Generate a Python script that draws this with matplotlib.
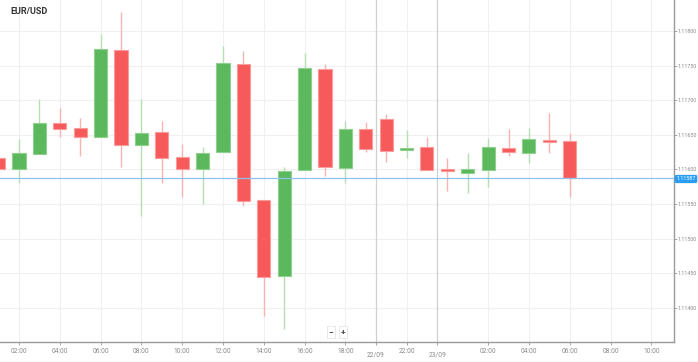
import matplotlib
matplotlib.use("Agg")
import matplotlib.pyplot as plt
import numpy as np

plt.rcParams['font.family'] = ['Roboto', 'DejaVu Sans']

# Hourly candles (index 0 = 01:00 on 21/09)
opens  = [1.11617, 1.11601, 1.11622, 1.11667, 1.11660, 1.11647, 1.11773, 1.11635, 1.11654, 1.11618,
          1.11601, 1.11625, 1.11752, 1.11556, 1.11446, 1.11599, 1.11745, 1.11602, 1.11658, 1.11673,
          1.11628, 1.11632, 1.11599, 1.11595, 1.11599, 1.11631, 1.11624, 1.11641, 1.11641]
highs  = [1.11620, 1.11644, 1.11702, 1.11689, 1.11674, 1.11796, 1.11827, 1.11702, 1.11670, 1.11637,
          1.11632, 1.11778, 1.11771, 1.11556, 1.11603, 1.11768, 1.11752, 1.11670, 1.11669, 1.11680,
          1.11657, 1.11647, 1.11617, 1.11624, 1.11645, 1.11658, 1.11660, 1.11682, 1.11653]
lows   = [1.11598, 1.11580, 1.11622, 1.11647, 1.11619, 1.11647, 1.11603, 1.11533, 1.11580, 1.11560,
          1.11550, 1.11625, 1.11547, 1.11388, 1.11369, 1.11599, 1.11590, 1.11580, 1.11625, 1.11611,
          1.11617, 1.11599, 1.11569, 1.11566, 1.11575, 1.11619, 1.11609, 1.11624, 1.11560]
closes = [1.11601, 1.11624, 1.11667, 1.11658, 1.11647, 1.11774, 1.11635, 1.11653, 1.11617, 1.11601,
          1.11624, 1.11754, 1.11554, 1.11445, 1.11598, 1.11747, 1.11603, 1.11658, 1.11630, 1.11627,
          1.11631, 1.11599, 1.11598, 1.11601, 1.11632, 1.11625, 1.11644, 1.11640, 1.11587]

time_tick_pos = [1, 3, 5, 7, 9, 11, 13, 15, 17, 20, 24, 26, 28, 30, 32]
time_tick_labels = ["02:00", "04:00", "06:00", "08:00", "10:00", "12:00", "14:00", "16:00",
                    "18:00", "22:00", "02:00", "04:00", "06:00", "08:00", "10:00"]
day_pos = [18.5, 21.5]
day_labels = ["22/09", "23/09"]
price_ticks = [1.11400, 1.11450, 1.11500, 1.11550, 1.11600, 1.11650, 1.11700, 1.11750, 1.11800]
last_price = 1.11587
title = "EUR/USD"

W, H = 698, 362
fig = plt.figure(figsize=(W / 100, H / 100), dpi=100)
ax = fig.add_axes([0, 1 - 342 / H, 674 / W, 342 / H])

GREEN = "#5cb85c"
GREEN_EDGE = "#8fd08f"
RED = "#f75a5a"
RED_EDGE = "#fb9a9a"

x = np.arange(len(opens))
o = np.array(opens); c = np.array(closes); hi = np.array(highs); lo = np.array(lows)
up = c >= o
bottom = np.minimum(o, c)
height = np.maximum(np.abs(c - o), 0.000025)

# grid
for p in price_ticks:
    ax.axhline(p, color="#f0f0f0", lw=0.8, zorder=0)
for p in time_tick_pos:
    ax.axvline(p, color="#f0f0f0", lw=0.8, zorder=0)
for p in day_pos:
    ax.axvline(p, color="#d0d0d0", lw=0.9, zorder=0)

# wicks
ax.vlines(x[up], lo[up], hi[up], color="#b5dfb5", lw=1.0, zorder=1)
ax.vlines(x[~up], lo[~up], hi[~up], color="#f9b3b3", lw=1.0, zorder=1)
# bodies
ax.bar(x[up], height[up], bottom=bottom[up], width=0.64, color=GREEN,
       edgecolor=GREEN_EDGE, linewidth=0.8, zorder=2)
ax.bar(x[~up], height[~up], bottom=bottom[~up], width=0.64, color=RED,
       edgecolor=RED_EDGE, linewidth=0.8, zorder=2)

# current price line
ax.axhline(last_price, color="#8cc4ee", lw=0.9, zorder=3)

ax.set_xlim(0.069, 33.11)
ax.set_ylim(1.113506, 1.118448)

for s in ["top", "left"]:
    ax.spines[s].set_visible(False)
ax.spines["right"].set_color("#9a9a9a")
ax.spines["right"].set_linewidth(1.0)
ax.spines["bottom"].set_color("#9a9a9a")
ax.spines["bottom"].set_linewidth(1.0)

ax.yaxis.tick_right()
ax.set_yticks(price_ticks)
ax.set_yticklabels([f"{p:.5f}" for p in price_ticks])
ax.tick_params(axis="y", direction="out", length=2.0, width=0.6, color="#9a9a9a",
               labelsize=3.9, labelcolor="#8a8a8a", pad=0.8)
ax.set_xticks(time_tick_pos + day_pos)
ax.set_xticklabels(time_tick_labels + ["", ""])
ax.tick_params(axis="x", direction="out", length=2.5, width=0.6, color="#9a9a9a",
               labelsize=4.8, labelcolor="#8a8a8a", pad=1.5)
for xp, d in zip(day_pos, day_labels):
    ax.text(xp, -(355 - 342) / 342, d, transform=ax.get_xaxis_transform(),
            fontsize=4.8, color="#8a8a8a", ha="center", va="center", clip_on=False)

# price label
fig.text(686 / W, 1 - 179 / H, f"{last_price:.5f}", fontsize=3.9, color="white",
         ha="center", va="center",
         bbox=dict(boxstyle="round,pad=0.3,rounding_size=0.3", fc="#2a9df4", ec="none"))

# title
fig.text(10 / W, 1 - 11 / H, title, fontsize=6.5, fontweight="bold", color="#333333",
         ha="left", va="center")

# zoom buttons
for xp, s in [(331, "\u2212"), (343, "+")]:
    fig.text(xp / W, 1 - 332 / H, s, fontsize=6, color="#444444", ha="center", va="center",
             fontweight="bold",
             bbox=dict(boxstyle="square,pad=0.25", fc="white", ec="#e4e4e4", lw=0.6))

# bottom frame line
fig.add_artist(plt.Line2D([0, 1], [0.5 / H, 0.5 / H], transform=fig.transFigure,
                          color="#dddddd", lw=1))

fig.savefig("out.png", dpi=100)
